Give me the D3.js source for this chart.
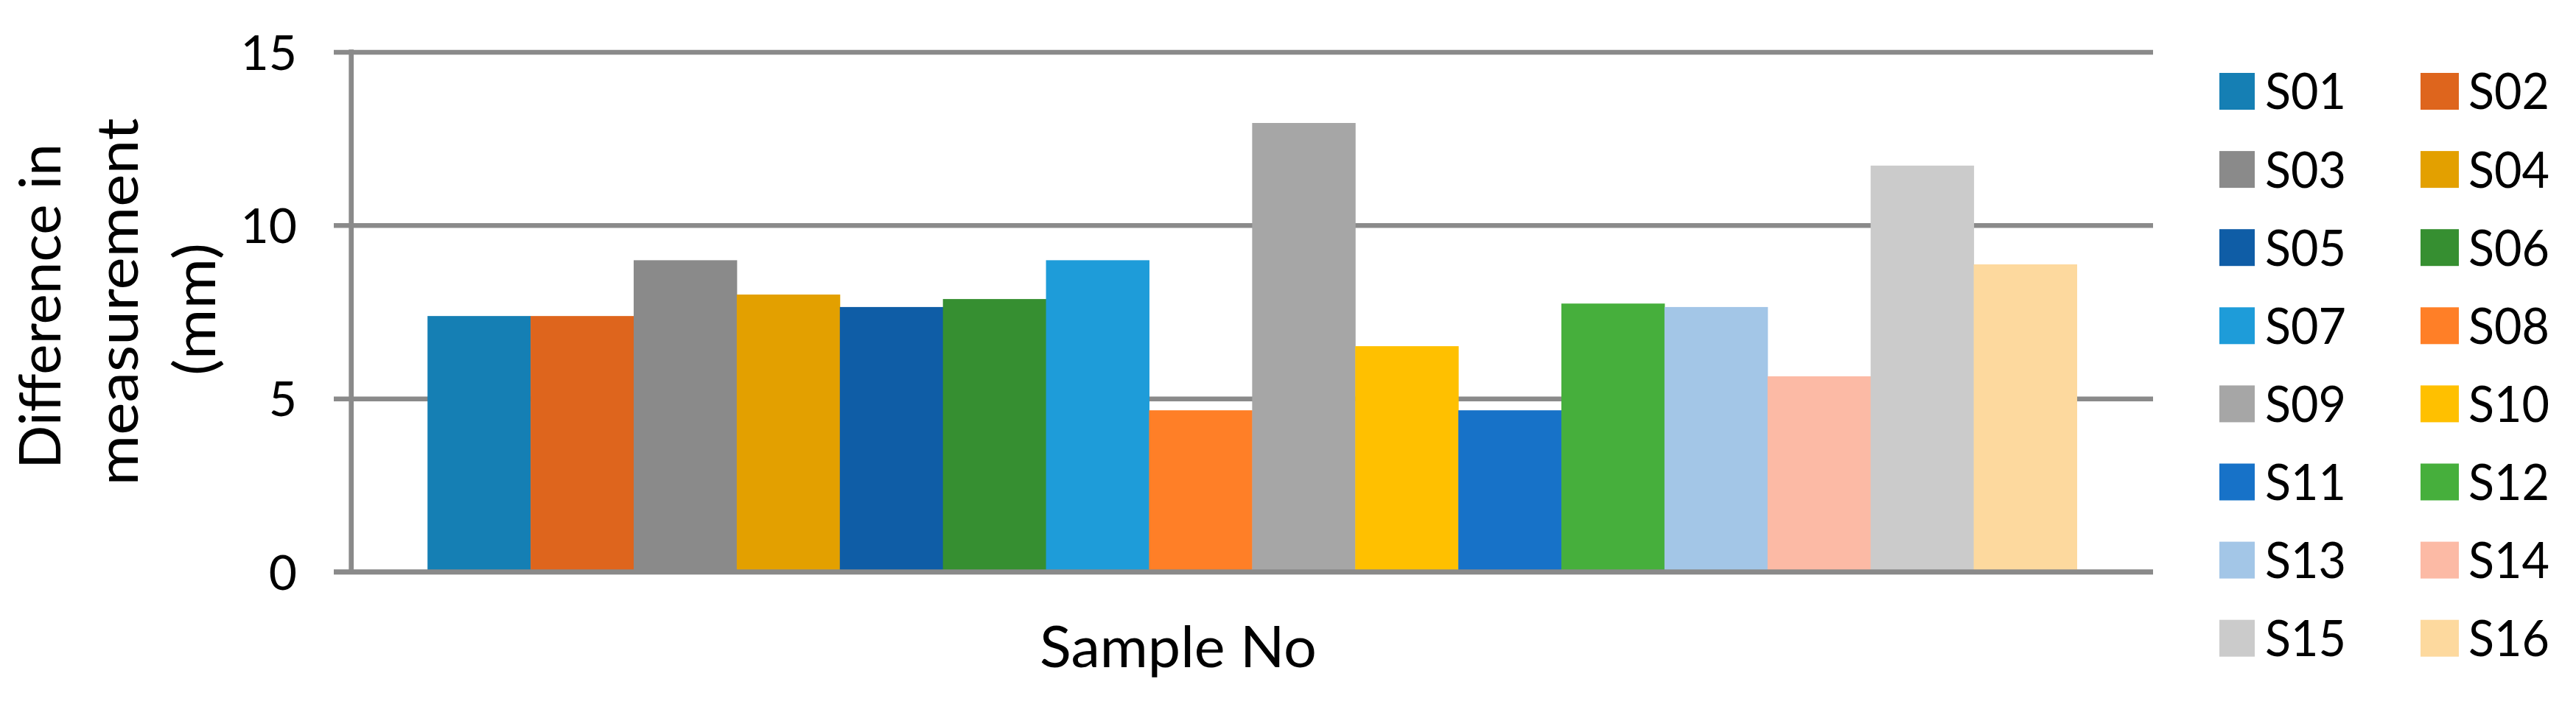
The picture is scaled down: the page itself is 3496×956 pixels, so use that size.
<!DOCTYPE html>
<html><head><meta charset="utf-8">
<script src="https://cdn.jsdelivr.net/npm/d3@7"></script>
<style>body{margin:0;background:#fff}svg{display:block}</style>
</head><body>
<svg id="c" width="3496" height="956"></svg>
<script>
const categories = ["Sample No"];
const series = ["S01","S02","S03","S04","S05","S06","S07","S08","S09","S10","S11","S12","S13","S14","S15","S16"];
const values = [7.38,7.38,8.99,8.00,7.64,7.87,8.99,4.66,12.95,6.51,4.66,7.74,7.64,5.64,11.72,8.87];
const colors = ["#157FB4","#DE651D","#8A8A8A","#E3A000","#0F5DA6","#368F31","#1E9CD9","#FF7F27",
                "#A6A6A6","#FFC000","#1772C8","#46AF3C","#A3C6E7","#FCBAA5","#CBCBCB","#FDD99E"];
const yTicks = [0,5,10,15];
const yTitleLines = ["Difference in","measurement","(mm)"];
const xTitle = "Sample No";

const svg = d3.select("#c");
const FONT = "Lato, 'Open Sans', sans-serif";
const gridColor = "#8A8A8A";
const plot = {left:476.7, right:2922, top:70.5, bottom:776.5, tickLeft:453};

const y = d3.scaleLinear().domain([0,15]).range([plot.bottom, plot.top]);
const x0 = d3.scaleBand().domain(categories).range([plot.left, plot.right]).paddingInner(0.0442).paddingOuter(0.0442);
const x1 = d3.scaleBand().domain(series).range([0, x0.bandwidth()]).padding(0);
const color = d3.scaleOrdinal().domain(series).range(colors);

// gridlines + tick labels
const axis = d3.axisLeft(y).tickValues(yTicks).tickSize(-(plot.right - plot.tickLeft)).tickPadding(50).tickFormat(d3.format("d"));
const ag = svg.append("g").attr("transform", `translate(${plot.tickLeft},0)`).call(axis);
ag.select(".domain").remove();
ag.selectAll(".tick line").attr("stroke", gridColor).attr("stroke-width", 6.5);
ag.selectAll(".tick text").attr("font-family", FONT).attr("font-size", 66).attr("fill", "#000").attr("dy","0.36em");

// bars
const data = series.map((s,i)=>({cat:categories[0], s, v:values[i]}));
svg.append("g").selectAll("rect").data(data).join("rect")
  .attr("x", d => x0(d.cat) + x1(d.s))
  .attr("width", x1.bandwidth() + 0.5)
  .attr("y", d => y(d.v))
  .attr("height", d => y(0) - y(d.v))
  .attr("fill", d => color(d.s));

// category axis line drawn over bar bases
svg.append("line").attr("x1", plot.tickLeft).attr("x2", plot.right).attr("y1", y(0)).attr("y2", y(0))
  .attr("stroke", gridColor).attr("stroke-width", 6.5);
// vertical axis line
svg.append("line").attr("x1", plot.left).attr("x2", plot.left).attr("y1", y(15) - 3.25).attr("y2", y(0) + 3.25)
  .attr("stroke", gridColor).attr("stroke-width", 6.7);

// y title
const titleBase = [82, 187, 292];
const titleMid = [416, 410, 420];
const titleLen = [442, 499, 180];
yTitleLines.forEach((t,i)=>{
  svg.append("text").attr("transform", `translate(${titleBase[i]},${titleMid[i]}) rotate(-90)`)
    .attr("text-anchor","middle").attr("font-family", FONT).attr("font-size", 77).attr("fill","#000")
    .attr("textLength", titleLen[i]).attr("lengthAdjust","spacingAndGlyphs").text(t);
});

// x title
svg.append("text").attr("x", 1599).attr("y", 906).attr("text-anchor","middle")
  .attr("font-family", FONT).attr("font-size", 78).attr("fill","#000")
  .attr("textLength", 376).attr("lengthAdjust","spacingAndGlyphs").text(xTitle);

// legend
const leg = svg.append("g");
series.forEach((s,i)=>{
  const col = i % 2, row = Math.floor(i/2);
  const cy = 124 + row*106.1;
  const sx = col === 0 ? 3012 : 3285;
  const sw = col === 0 ? 48 : 52;
  const tx = col === 0 ? 3074 : 3350;
  leg.append("rect").attr("x", sx).attr("y", cy-25).attr("width", sw).attr("height", 50).attr("fill", color(s));
  leg.append("text").attr("x", tx).attr("y", cy).attr("dy","0.36em").attr("font-family", FONT)
    .attr("font-size", 68).attr("fill","#000")
    .attr("textLength", 110).attr("lengthAdjust","spacingAndGlyphs").text(s);
});
</script>
</body></html>
